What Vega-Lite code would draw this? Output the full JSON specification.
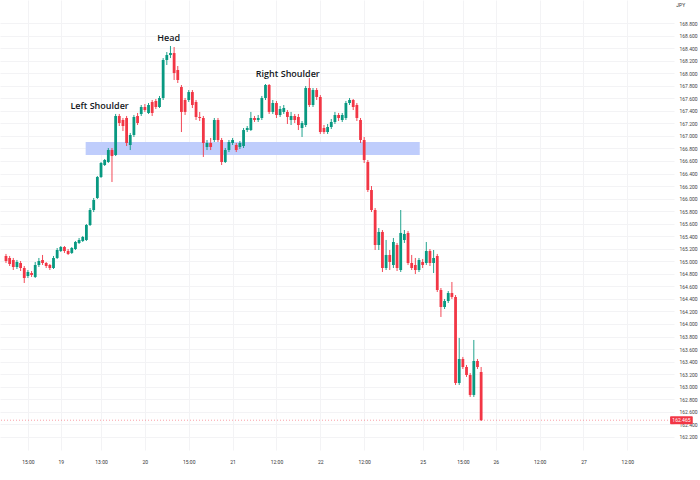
{
"$schema": "https://vega.github.io/schema/vega-lite/v6.json",
"width": 674, "height": 450,
"autosize": {"type": "none"},
"padding": {"left": 0, "top": 0, "right": 26, "bottom": 30},
"background": "white",
"config": {"view": {"stroke": null}, "font": "Roboto"},
"datasets": {
"candles": [
{"i":0,"o":165.085,"h":165.117,"l":164.973,"c":165.005},
{"i":1,"o":165.053,"h":165.085,"l":164.925,"c":164.957},
{"i":2,"o":165.021,"h":165.053,"l":164.861,"c":164.909},
{"i":3,"o":164.909,"h":165.021,"l":164.877,"c":164.989},
{"i":4,"o":164.973,"h":165.005,"l":164.845,"c":164.893},
{"i":5,"o":164.893,"h":164.925,"l":164.654,"c":164.734},
{"i":6,"o":164.765,"h":164.861,"l":164.734,"c":164.829},
{"i":7,"o":164.813,"h":164.845,"l":164.750,"c":164.781},
{"i":8,"o":164.750,"h":164.989,"l":164.734,"c":164.941},
{"i":9,"o":164.941,"h":165.053,"l":164.909,"c":165.005},
{"i":10,"o":165.021,"h":165.101,"l":164.941,"c":164.973},
{"i":11,"o":164.973,"h":164.989,"l":164.893,"c":164.925},
{"i":12,"o":164.941,"h":164.957,"l":164.861,"c":164.893},
{"i":13,"o":164.893,"h":165.085,"l":164.877,"c":165.053},
{"i":14,"o":165.053,"h":165.212,"l":165.037,"c":165.180},
{"i":15,"o":165.164,"h":165.244,"l":165.148,"c":165.228},
{"i":16,"o":165.228,"h":165.244,"l":165.133,"c":165.164},
{"i":17,"o":165.164,"h":165.196,"l":165.101,"c":165.117},
{"i":18,"o":165.133,"h":165.228,"l":165.117,"c":165.212},
{"i":19,"o":165.196,"h":165.324,"l":165.180,"c":165.308},
{"i":20,"o":165.292,"h":165.372,"l":165.276,"c":165.340},
{"i":21,"o":165.324,"h":165.404,"l":165.308,"c":165.388},
{"i":22,"o":165.340,"h":165.595,"l":165.324,"c":165.579},
{"i":23,"o":165.579,"h":165.850,"l":165.563,"c":165.818},
{"i":24,"o":165.818,"h":166.010,"l":165.786,"c":165.978},
{"i":25,"o":166.010,"h":166.361,"l":165.994,"c":166.345},
{"i":26,"o":166.345,"h":166.584,"l":166.329,"c":166.568},
{"i":27,"o":166.536,"h":166.632,"l":166.520,"c":166.616},
{"i":28,"o":166.584,"h":166.807,"l":166.568,"c":166.775},
{"i":29,"o":166.775,"h":166.807,"l":166.265,"c":166.679},
{"i":30,"o":166.695,"h":167.350,"l":166.679,"c":167.318},
{"i":31,"o":167.318,"h":167.350,"l":167.158,"c":167.206},
{"i":32,"o":167.254,"h":167.286,"l":167.078,"c":167.158},
{"i":33,"o":167.286,"h":167.318,"l":166.839,"c":166.887},
{"i":34,"o":166.855,"h":167.047,"l":166.775,"c":167.015},
{"i":35,"o":167.015,"h":167.334,"l":166.983,"c":167.302},
{"i":36,"o":167.318,"h":167.366,"l":167.174,"c":167.206},
{"i":37,"o":167.350,"h":167.493,"l":167.318,"c":167.461},
{"i":38,"o":167.461,"h":167.509,"l":167.382,"c":167.413},
{"i":39,"o":167.366,"h":167.525,"l":167.350,"c":167.493},
{"i":40,"o":167.541,"h":167.573,"l":167.318,"c":167.366},
{"i":41,"o":167.557,"h":167.589,"l":167.429,"c":167.461},
{"i":42,"o":167.461,"h":167.637,"l":167.445,"c":167.605},
{"i":43,"o":167.605,"h":168.242,"l":167.573,"c":168.211},
{"i":44,"o":168.211,"h":168.338,"l":168.131,"c":168.290},
{"i":45,"o":168.290,"h":168.434,"l":168.242,"c":168.322},
{"i":46,"o":168.322,"h":168.418,"l":167.892,"c":168.003},
{"i":47,"o":168.051,"h":168.115,"l":167.844,"c":167.892},
{"i":48,"o":167.780,"h":167.812,"l":167.062,"c":167.382},
{"i":49,"o":167.573,"h":167.605,"l":167.334,"c":167.382},
{"i":50,"o":167.573,"h":167.732,"l":167.541,"c":167.700},
{"i":51,"o":167.700,"h":167.732,"l":167.445,"c":167.493},
{"i":52,"o":167.541,"h":167.573,"l":167.254,"c":167.302},
{"i":53,"o":167.302,"h":167.382,"l":167.238,"c":167.286},
{"i":54,"o":167.286,"h":167.318,"l":166.664,"c":166.887},
{"i":55,"o":166.823,"h":166.935,"l":166.775,"c":166.887},
{"i":56,"o":166.887,"h":166.967,"l":166.775,"c":166.823},
{"i":57,"o":166.935,"h":167.286,"l":166.903,"c":167.254},
{"i":58,"o":167.254,"h":167.286,"l":166.903,"c":166.935},
{"i":59,"o":166.935,"h":166.967,"l":166.536,"c":166.584},
{"i":60,"o":166.584,"h":166.807,"l":166.568,"c":166.775},
{"i":61,"o":166.775,"h":166.935,"l":166.743,"c":166.903},
{"i":62,"o":166.887,"h":166.967,"l":166.855,"c":166.935},
{"i":63,"o":166.855,"h":166.887,"l":166.743,"c":166.775},
{"i":64,"o":166.823,"h":166.919,"l":166.791,"c":166.887},
{"i":65,"o":166.839,"h":167.126,"l":166.807,"c":167.094},
{"i":66,"o":167.094,"h":167.158,"l":167.062,"c":167.126},
{"i":67,"o":167.094,"h":167.382,"l":167.078,"c":167.286},
{"i":68,"o":167.286,"h":167.318,"l":167.222,"c":167.254},
{"i":69,"o":167.254,"h":167.334,"l":167.222,"c":167.286},
{"i":70,"o":167.286,"h":167.637,"l":167.254,"c":167.605},
{"i":71,"o":167.605,"h":167.828,"l":167.573,"c":167.812},
{"i":72,"o":167.812,"h":167.828,"l":167.350,"c":167.382},
{"i":73,"o":167.382,"h":167.573,"l":167.350,"c":167.525},
{"i":74,"o":167.525,"h":167.557,"l":167.286,"c":167.334},
{"i":75,"o":167.334,"h":167.477,"l":167.302,"c":167.429},
{"i":76,"o":167.382,"h":167.493,"l":167.350,"c":167.445},
{"i":77,"o":167.382,"h":167.413,"l":167.190,"c":167.302},
{"i":78,"o":167.254,"h":167.382,"l":167.174,"c":167.318},
{"i":79,"o":167.318,"h":167.350,"l":167.206,"c":167.254},
{"i":80,"o":167.302,"h":167.350,"l":167.094,"c":167.174},
{"i":81,"o":167.126,"h":167.238,"l":166.983,"c":167.206},
{"i":82,"o":167.174,"h":167.796,"l":167.142,"c":167.764},
{"i":83,"o":167.764,"h":167.924,"l":167.461,"c":167.493},
{"i":84,"o":167.493,"h":167.764,"l":167.461,"c":167.732},
{"i":85,"o":167.732,"h":167.764,"l":167.573,"c":167.621},
{"i":86,"o":167.621,"h":167.652,"l":167.031,"c":167.062},
{"i":87,"o":167.126,"h":167.174,"l":167.031,"c":167.062},
{"i":88,"o":167.062,"h":167.190,"l":167.031,"c":167.142},
{"i":89,"o":167.142,"h":167.270,"l":167.110,"c":167.222},
{"i":90,"o":167.222,"h":167.382,"l":167.190,"c":167.334},
{"i":91,"o":167.334,"h":167.366,"l":167.238,"c":167.286},
{"i":92,"o":167.254,"h":167.366,"l":167.222,"c":167.334},
{"i":93,"o":167.286,"h":167.557,"l":167.254,"c":167.525},
{"i":94,"o":167.525,"h":167.605,"l":167.493,"c":167.573},
{"i":95,"o":167.573,"h":167.589,"l":167.413,"c":167.461},
{"i":96,"o":167.493,"h":167.525,"l":167.238,"c":167.286},
{"i":97,"o":167.254,"h":167.286,"l":166.887,"c":166.935},
{"i":98,"o":166.935,"h":166.983,"l":166.568,"c":166.616},
{"i":99,"o":166.584,"h":166.616,"l":166.105,"c":166.137},
{"i":100,"o":166.137,"h":166.201,"l":165.786,"c":165.818},
{"i":101,"o":165.818,"h":165.850,"l":165.180,"c":165.260},
{"i":102,"o":165.260,"h":165.531,"l":165.180,"c":165.468},
{"i":103,"o":165.468,"h":165.499,"l":164.829,"c":164.893},
{"i":104,"o":164.893,"h":165.340,"l":164.861,"c":165.101},
{"i":105,"o":165.101,"h":165.180,"l":164.861,"c":164.989},
{"i":106,"o":164.941,"h":165.372,"l":164.893,"c":165.308},
{"i":107,"o":165.260,"h":165.292,"l":164.845,"c":164.893},
{"i":108,"o":164.861,"h":165.818,"l":164.829,"c":165.452},
{"i":109,"o":165.340,"h":165.499,"l":165.292,"c":165.436},
{"i":110,"o":165.452,"h":165.484,"l":164.941,"c":164.973},
{"i":111,"o":164.973,"h":165.101,"l":164.861,"c":164.893},
{"i":112,"o":164.941,"h":165.053,"l":164.797,"c":164.861},
{"i":113,"o":164.861,"h":165.053,"l":164.829,"c":165.021},
{"i":114,"o":164.989,"h":165.037,"l":164.893,"c":164.941},
{"i":115,"o":164.973,"h":165.308,"l":164.941,"c":165.164},
{"i":116,"o":165.164,"h":165.196,"l":164.925,"c":164.973},
{"i":117,"o":164.973,"h":165.180,"l":164.813,"c":165.053},
{"i":118,"o":165.085,"h":165.117,"l":164.510,"c":164.542},
{"i":119,"o":164.542,"h":164.574,"l":164.112,"c":164.271},
{"i":120,"o":164.271,"h":164.399,"l":164.239,"c":164.367},
{"i":121,"o":164.367,"h":164.526,"l":164.335,"c":164.494},
{"i":122,"o":164.494,"h":164.670,"l":164.399,"c":164.431},
{"i":123,"o":164.431,"h":164.462,"l":163.027,"c":163.059},
{"i":124,"o":163.059,"h":163.777,"l":163.027,"c":163.442},
{"i":125,"o":163.442,"h":163.474,"l":163.282,"c":163.314},
{"i":126,"o":163.314,"h":163.346,"l":163.155,"c":163.186},
{"i":127,"o":163.186,"h":163.218,"l":162.836,"c":162.868},
{"i":128,"o":162.868,"h":163.745,"l":162.836,"c":163.410},
{"i":129,"o":163.410,"h":163.442,"l":163.282,"c":163.314},
{"i":130,"o":163.234,"h":163.314,"l":162.453,"c":162.465}
],
"zone": [{"x1": 21.8, "x2": 113.2, "lo": 166.695, "hi": 166.903}],
"notes": [
{"i": 44.5, "p": 168.562, "t": "Head"},
{"i": 25.6, "p": 167.477, "t": "Left Shoulder"},
{"i": 77.1, "p": 167.987, "t": "Right Shoulder"}
],
"last": [{"p": 162.465, "lo": 162.40, "hi": 162.53, "xa": 181.7, "xb": 187.9, "xm": 184.8, "t": "162.465"}],
"head": [{"i": 183.4, "p": 169.088, "t": "JPY"}]
},
"layer": [
{
"data": {"name": "zone"},
"mark": {"type": "rect", "color": "#bfcdfc"},
"encoding": {
"x": {"field": "x1", "type": "quantitative", "title": null,
 "scale": {"domain": [-0.27, 181.4], "nice": false, "zero": false},
 "axis": {"values": [6,15,26,38,50,62,74,86,98,114,125,134,146,158,170], "tickCount": 40,
  "labelExpr": "['15:00','19','13:00','20','15:00','21','12:00','22','12:00','25','15:00','26','12:00','27','12:00'][indexof([6,15,26,38,50,62,74,86,98,114,125,134,146,158,170], datum.value)]",
  "labelFontSize": 5, "labelColor": "#333333", "labelPadding": 9, "labelFlush": false, "labelOverlap": false,
  "domain": false, "ticks": false, "grid": true, "gridColor": "#f3f3f5", "gridWidth": 1}},
"x2": {"field": "x2"},
"y": {"field": "lo", "type": "quantitative", "title": null,
 "scale": {"domain": [161.99, 169.168], "nice": false, "zero": false},
 "axis": {"orient": "right", "values": [162.2,162.4,162.6,162.8,163.0,163.2,163.4,163.6,163.8,164.0,164.2,164.4,164.6,164.8,165.0,165.2,165.4,165.6,165.8,166.0,166.2,166.4,166.6,166.8,167.0,167.2,167.4,167.6,167.8,168.0,168.2,168.4,168.6,168.8], "tickCount": 60,
  "format": ".3f", "labelFontSize": 5, "labelColor": "#444444", "labelPadding": 5, "labelAlign": "left", "labelOverlap": false, "labelFlush": false,
  "domain": false, "ticks": false, "grid": true, "gridColor": "#f3f3f5", "gridWidth": 1}},
"y2": {"field": "hi"}
}
},
{
"data": {"name": "last"},
"mark": {"type": "rule", "color": "#f23645", "strokeDash": [1, 2], "strokeWidth": 0.8, "opacity": 0.6},
"encoding": {"y": {"field": "p", "type": "quantitative"}}
},
{
"data": {"name": "candles"},
"mark": {"type": "rule", "strokeWidth": 0.9},
"encoding": {
"x": {"field": "i", "type": "quantitative"},
"y": {"field": "l", "type": "quantitative"},
"y2": {"field": "h"},
"color": {"condition": {"test": "datum.c >= datum.o", "value": "#089981"}, "value": "#f23645"}
}
},
{
"data": {"name": "candles"},
"mark": {"type": "bar", "size": 2.8},
"encoding": {
"x": {"field": "i", "type": "quantitative"},
"y": {"field": "o", "type": "quantitative"},
"y2": {"field": "c"},
"color": {"condition": {"test": "datum.c >= datum.o", "value": "#089981"}, "value": "#f23645"}
}
},
{
"data": {"name": "notes"},
"mark": {"type": "text", "font": "Open Sans", "fontSize": 9, "fontWeight": 600, "color": "#131722", "align": "center", "baseline": "middle"},
"encoding": {
"x": {"field": "i", "type": "quantitative"},
"y": {"field": "p", "type": "quantitative"},
"text": {"field": "t"}
}
},
{
"data": {"name": "last"},
"mark": {"type": "rect", "color": "#f23645", "cornerRadius": 1},
"encoding": {
"x": {"field": "xa", "type": "quantitative"},
"x2": {"field": "xb"},
"y": {"field": "lo", "type": "quantitative"},
"y2": {"field": "hi"}
}
},
{
"data": {"name": "last"},
"mark": {"type": "text", "fontSize": 5, "color": "white", "align": "center", "baseline": "middle"},
"encoding": {
"x": {"field": "xm", "type": "quantitative"},
"y": {"field": "p", "type": "quantitative"},
"text": {"field": "t"}
}
},
{
"data": {"name": "head"},
"mark": {"type": "text", "fontSize": 5, "color": "#333333", "align": "left", "baseline": "middle"},
"encoding": {
"x": {"field": "i", "type": "quantitative"},
"y": {"field": "p", "type": "quantitative"},
"text": {"field": "t"}
}
}
]
}
